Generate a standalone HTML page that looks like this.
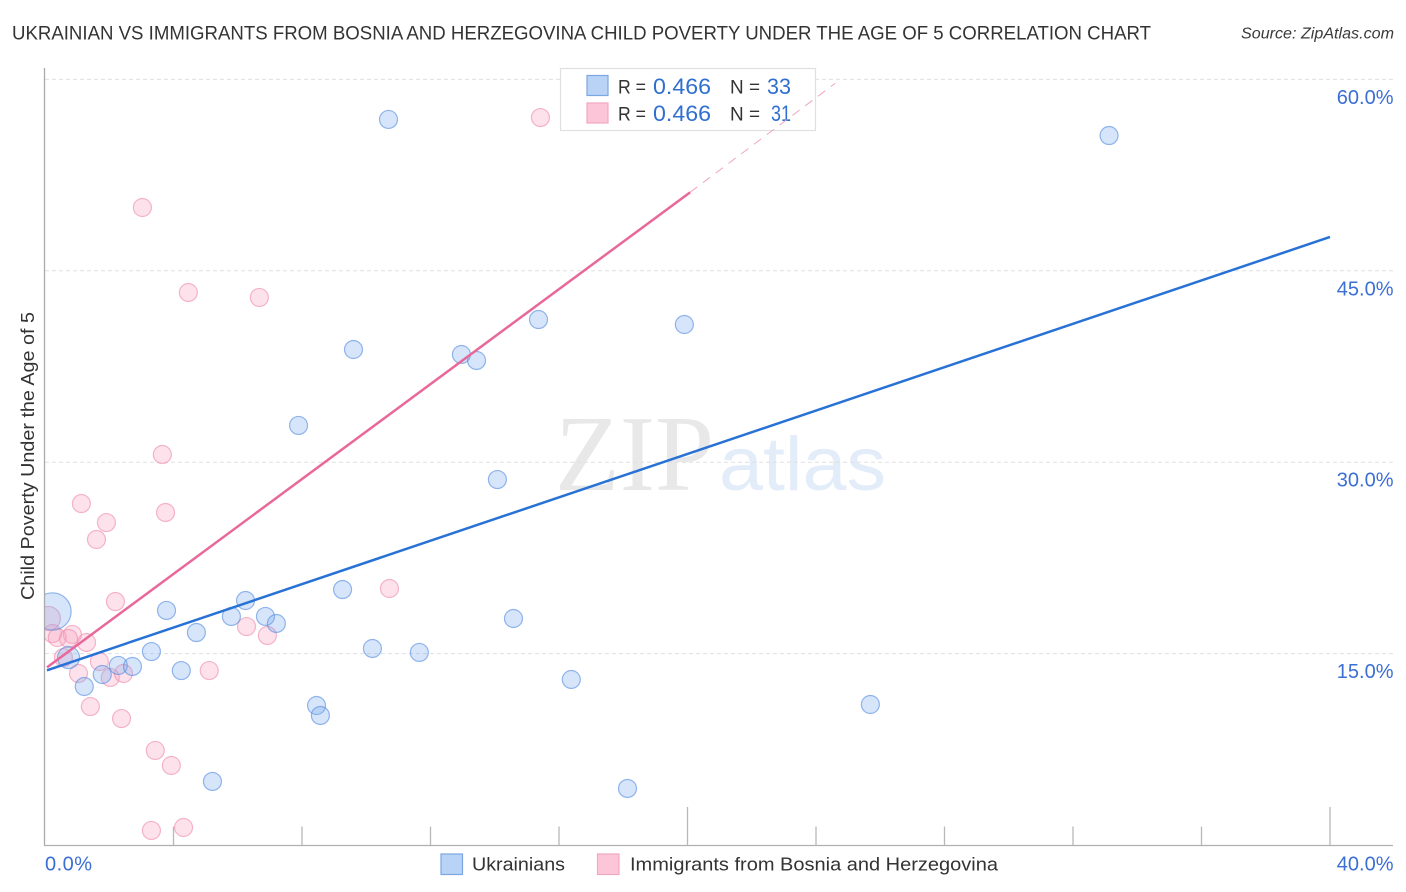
<!DOCTYPE html>
<html lang="en">
<head>
<meta charset="utf-8">
<title>Ukrainian vs Immigrants from Bosnia and Herzegovina Child Poverty Correlation Chart</title>
<style>
html,body{margin:0;padding:0;background:#fff;width:1406px;height:892px;overflow:hidden}
svg{display:block;font-family:"Liberation Sans",sans-serif}
</style>
</head>
<body>
<svg id="chart" xmlns="http://www.w3.org/2000/svg" width="1406" height="892" viewBox="0 0 1406 892">
  <defs>
    <clipPath id="plot-clip"><rect x="45" y="60" width="1348" height="785"/></clipPath>
  </defs>
  <rect x="0" y="0" width="1406" height="892" fill="#fff"/>

  <text x="12" y="39.5" font-size="19" fill="#333" textLength="1139" lengthAdjust="spacingAndGlyphs">UKRAINIAN VS IMMIGRANTS FROM BOSNIA AND HERZEGOVINA CHILD POVERTY UNDER THE AGE OF 5 CORRELATION CHART</text>
  <text x="1241" y="38.5" font-size="15.5" font-style="italic" fill="#3a3a3a" textLength="153" lengthAdjust="spacingAndGlyphs">Source: ZipAtlas.com</text>

  <text x="555" y="490" font-family="'Liberation Serif',serif" font-size="108" fill="#e8e8e8" textLength="159" lengthAdjust="spacingAndGlyphs">ZIP</text>
  <text x="719" y="490" font-size="76" fill="#e3ecf9" textLength="167" lengthAdjust="spacingAndGlyphs">atlas</text>

  <g id="grid"></g>
  <g id="x-ticks"></g>

  <line x1="44.5" y1="68" x2="44.5" y2="846" stroke="#aaa" stroke-width="1.3"/>
  <line x1="44" y1="845.5" x2="1393" y2="845.5" stroke="#b0b0b0" stroke-width="1.3"/>

  <g id="y-labels"></g>
  <g id="x-labels"></g>

  <text transform="translate(34 600) rotate(-90)" font-size="18.5" fill="#333" textLength="288" lengthAdjust="spacingAndGlyphs">Child Poverty Under the Age of 5</text>

  <g>
    <rect x="560.5" y="68.5" width="255" height="62" fill="#fff" stroke="#e0e0e0" stroke-width="1.2"/>
    <rect x="587" y="75.5" width="21" height="20" fill="#b9d3f6" stroke="#7ba6df" stroke-width="1.2"/>
    <rect x="587" y="103" width="21" height="20" fill="#fcc6d8" stroke="#f2a8c0" stroke-width="1.2"/>
    <text x="618" y="93.5" font-size="19.5" fill="#333" textLength="28" lengthAdjust="spacingAndGlyphs">R =</text>
    <text x="653" y="94" font-size="22" fill="#2f6fd0" textLength="58" lengthAdjust="spacingAndGlyphs">0.466</text>
    <text x="730" y="93.5" font-size="19.5" fill="#333" textLength="30" lengthAdjust="spacingAndGlyphs">N =</text>
    <text x="767" y="94" font-size="22" fill="#2f6fd0" textLength="24" lengthAdjust="spacingAndGlyphs">33</text>
    <text x="618" y="120.5" font-size="19.5" fill="#333" textLength="28" lengthAdjust="spacingAndGlyphs">R =</text>
    <text x="653" y="121" font-size="22" fill="#2f6fd0" textLength="58" lengthAdjust="spacingAndGlyphs">0.466</text>
    <text x="730" y="120.5" font-size="19.5" fill="#333" textLength="30" lengthAdjust="spacingAndGlyphs">N =</text>
    <text x="771" y="121" font-size="22" fill="#2f6fd0" textLength="20" lengthAdjust="spacingAndGlyphs">31</text>
  </g>

  <g id="points" clip-path="url(#plot-clip)"></g>
  <g id="trends"></g>

  <g>
    <rect x="441" y="854" width="21.5" height="20.5" fill="#b9d3f6" stroke="#7ba6df" stroke-width="1.2"/>
    <text x="472" y="870.5" font-size="18.5" fill="#333" textLength="93" lengthAdjust="spacingAndGlyphs">Ukrainians</text>
    <rect x="597.5" y="854" width="21.5" height="20.5" fill="#fcc6d8" stroke="#f2a8c0" stroke-width="1.2"/>
    <text x="630" y="870.5" font-size="18.5" fill="#333" textLength="368" lengthAdjust="spacingAndGlyphs">Immigrants from Bosnia and Herzegovina</text>
  </g>
</svg>

<script>
const SVG_NS = 'http://www.w3.org/2000/svg';

/* ---------- chart data (percent values) ---------- */
const yTickValues = [15, 30, 45, 60];
const xTickValues = [4, 8, 12, 16, 20, 24, 28, 32, 36, 40];
const xMajorTicks = [20, 40];
const xLabelValues = [0, 40];

const ukrainianShare = [10.68, 33.11, 15.35, 19.89, 9.59, 12.95, 13.42, 7.88, 14.07, 9.25, 6.23, 3.77, 5.79, 6.85, 7.19, 14.57, 4.70, 10.18, 11.64, 3.30, 0.72, 4.23, 2.27, 2.71, 1.77, 16.37, 1.21, 8.44, 8.56, 25.68, 5.20, 18.12, 0.22];
const ukrainianPoverty = [56.90, 55.64, 41.22, 40.83, 38.87, 38.48, 38.01, 32.92, 28.68, 20.06, 19.20, 18.42, 17.95, 17.95, 17.40, 17.79, 16.69, 15.44, 15.13, 15.20, 14.73, 13.71, 14.11, 14.03, 13.40, 13.01, 12.46, 10.97, 10.19, 11.05, 5.02, 4.47, 18.34];
const ukrainianWeight = [1, 1, 1, 1, 1, 1, 1, 1, 1, 1, 1, 1, 1, 1, 1, 1, 1, 1, 1, 1, 1.5, 1, 1, 1, 1, 1, 1, 1, 1, 1, 1, 1, 4.3];

const immigrantShare = [15.41, 3.02, 4.45, 6.66, 3.64, 3.74, 1.12, 1.90, 1.59, 10.71, 2.18, 6.26, 6.91, 0.09, 0.22, 0.37, 0.84, 0.72, 1.28, 0.56, 1.68, 1.03, 2.02, 2.43, 5.10, 1.40, 2.37, 3.42, 3.92, 3.30, 4.30];
const immigrantPoverty = [57.05, 50.00, 43.34, 42.95, 30.64, 26.10, 26.80, 25.31, 23.98, 20.14, 19.12, 17.16, 16.46, 17.79, 16.61, 16.30, 16.54, 16.22, 15.91, 14.73, 14.42, 13.48, 13.17, 13.48, 13.71, 10.89, 9.95, 7.45, 6.27, 1.18, 1.41];
const immigrantWeight = [1, 1, 1, 1, 1, 1, 1, 1, 1, 1, 1, 1, 1, 1.8, 1, 1, 1, 1, 1, 1, 1, 1, 1, 1, 1, 1, 1, 1, 1, 1, 1];

const ukrainianTrendX = [0, 40];
const ukrainianTrendY = [13.64, 47.65];
const immigrantTrendX = [0, 20.08];
const immigrantTrendY = [13.80, 51.15];
const immigrantTrendExtendedX = [20.08, 24.6];
const immigrantTrendExtendedY = [51.15, 59.7];

/* ---------- axis functions ---------- */
function xScale(v) { return 45 + v * 32.125; }
function yScale(v) { return 845 - v * 12.76; }
function pointRadius(w) { return 9 * Math.sqrt(w); }

function make(tag, attrs) {
  const el = document.createElementNS(SVG_NS, tag);
  Object.keys(attrs).forEach(function (k) { el.setAttribute(k, attrs[k]); });
  return el;
}

/* ---------- gridlines and y labels ---------- */
const gridGroup = document.getElementById('grid');
const yLabelGroup = document.getElementById('y-labels');
yTickValues.forEach(function (v) {
  const line = make('line', { x1: 45, x2: 1393, y1: yScale(v), y2: yScale(v), stroke: '#e0e0e0', 'stroke-width': 1, 'stroke-dasharray': '4 3' });
  
  
  gridGroup.appendChild(line);

  const label = make('text', { x: 1393.5, y: yScale(v) + 24.5, 'text-anchor': 'end', 'font-size': 20, fill: '#3b6fd4' });
  label.textContent = v.toFixed(1) + '%';
  
  
  yLabelGroup.appendChild(label);
});

/* ---------- x ticks and labels ---------- */
const tickGroup = document.getElementById('x-ticks');
xTickValues.forEach(function (v) {
  const top = xMajorTicks.indexOf(v) >= 0 ? 807 : 826.5;
  const tick = make('line', { x1: xScale(v), x2: xScale(v), y1: top, y2: 845, stroke: '#b8b8b8', 'stroke-width': 1.3 });
  
  
  tickGroup.appendChild(tick);
});

const xLabelGroup = document.getElementById('x-labels');
xLabelValues.forEach(function (v, i) {
  const label = make('text', { x: i === 0 ? 45 : 1393.5, y: 870.5, 'text-anchor': i === 0 ? 'start' : 'end', 'font-size': 20, 'letter-spacing': i === 0 ? 0.5 : 0, fill: '#3b6fd4' });
  label.textContent = v.toFixed(1) + '%';
  
  
  xLabelGroup.appendChild(label);
});

/* ---------- scatter points ---------- */
const pointGroup = document.getElementById('points');
immigrantShare.forEach(function (v, i) {
  const dot = make('circle', { cx: xScale(v) + 0.4, cy: yScale(immigrantPoverty[i]) + 0.5, r: pointRadius(immigrantWeight[i]), fill: 'rgba(248,160,188,0.3)', stroke: 'rgba(238,140,175,0.62)', 'stroke-width': 1.2 });
  
  
  pointGroup.appendChild(dot);
});
ukrainianShare.forEach(function (v, i) {
  const dot = make('circle', { cx: xScale(v) + 0.4, cy: yScale(ukrainianPoverty[i]) + 0.5, r: pointRadius(ukrainianWeight[i]), fill: 'rgba(120,170,240,0.3)', stroke: 'rgba(85,140,225,0.62)', 'stroke-width': 1.2 });
  
  
  pointGroup.appendChild(dot);
});

/* ---------- trend lines ---------- */
const trendGroup = document.getElementById('trends');

const immigrantDash = make('line', { x1: xScale(immigrantTrendExtendedX[0]), y1: yScale(immigrantTrendExtendedY[0]), x2: xScale(immigrantTrendExtendedX[1]), y2: yScale(immigrantTrendExtendedY[1]), stroke: '#f0a5c0', 'stroke-width': 1, 'stroke-dasharray': '9 7' });


trendGroup.appendChild(immigrantDash);

const immigrantLine = make('line', { x1: xScale(immigrantTrendX[0]) + 2, y1: yScale(immigrantTrendY[0]) - 1.5, x2: xScale(immigrantTrendX[1]), y2: yScale(immigrantTrendY[1]), stroke: '#e8689a', 'stroke-width': 2.5 });


trendGroup.appendChild(immigrantLine);

const ukrainianLine = make('line', { x1: xScale(ukrainianTrendX[0]) + 2, y1: yScale(ukrainianTrendY[0]) - 0.7, x2: xScale(ukrainianTrendX[1]), y2: yScale(ukrainianTrendY[1]), stroke: '#2872d6', 'stroke-width': 2.5 });


trendGroup.appendChild(ukrainianLine);
</script>
</body>
</html>
